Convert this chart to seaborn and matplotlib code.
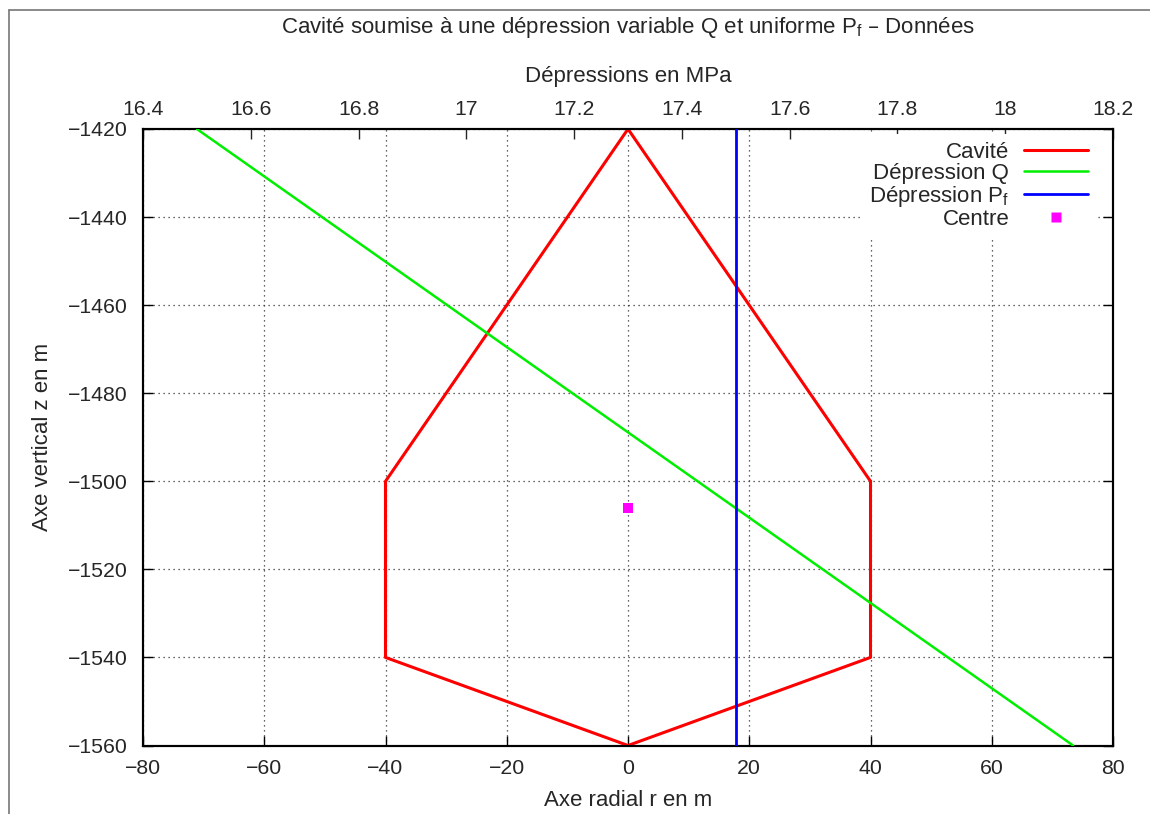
import matplotlib
matplotlib.use("Agg")
import matplotlib.pyplot as plt
from matplotlib.lines import Line2D
import seaborn as sns
import pandas as pd

# ---- data ----
cavity_r = [0, 40, 40, 0, -40, -40, 0]
cavity_z = [-1420, -1500, -1540, -1560, -1540, -1500, -1420]
q_pressure = [16.5, 18.126]
q_z = [-1420, -1560]
pf_pressure = [17.5, 17.5]
pf_z = [-1420, -1560]
centre_r = [0]
centre_z = [-1506]
x_ticks = [-80, -60, -40, -20, 0, 20, 40, 60, 80]
y_ticks = [-1560, -1540, -1520, -1500, -1480, -1460, -1440, -1420]
top_ticks = [16.4, 16.6, 16.8, 17.0, 17.2, 17.4, 17.6, 17.8, 18.0, 18.2]
top_labels = ["16.4", "16.6", "16.8", "17", "17.2", "17.4", "17.6", "17.8", "18", "18.2"]

sns.set_theme(style="ticks")
plt.rcParams['font.family'] = ['Liberation Sans', 'DejaVu Sans']
plt.rcParams['mathtext.default'] = 'regular'
plt.rcParams['axes.unicode_minus'] = True
FS = 16
TFS = 15.3

fig = plt.figure(figsize=(11.5, 8.14), dpi=100)
W, H = 1150, 814
left, right, top, bottom = 143, 1113, 129, 745.5
ax = fig.add_axes([left / W, 1 - bottom / H, (right - left) / W, (bottom - top) / H])

cav = pd.DataFrame({"r": cavity_r, "z": cavity_z})
sns.lineplot(data=cav, x="r", y="z", sort=False, estimator=None, ax=ax,
             color="#ff0000", lw=2.2, zorder=3)
cen = pd.DataFrame({"r": centre_r, "z": centre_z})
sns.scatterplot(data=cen, x="r", y="z", ax=ax, marker="s", color="#ff00ff",
                s=52, edgecolor="none", zorder=4)

ax.set_xlim(-80, 80)
ax.set_ylim(-1560, -1420)
ax.set_xticks(x_ticks)
ax.set_yticks(y_ticks)
ax.grid(True, linestyle=(0, (1, 3)), color="#333333", lw=0.9)
ax.tick_params(axis="both", direction="in", length=7.5, width=1, labelsize=TFS,
               color="black", top=False, right=True, labelright=False)
ax.tick_params(axis="x", pad=9.5)
ax.tick_params(axis="y", pad=11)
ax.set_xlabel("Axe radial r en m", fontsize=FS, labelpad=9)
ax.set_ylabel("Axe vertical z en m", fontsize=FS, labelpad=10.5)
for s in ax.spines.values():
    s.set_linewidth(1.5)
    s.set_color("black")

ax2 = ax.twiny()
qd = pd.DataFrame({"p": q_pressure, "z": q_z})
sns.lineplot(data=qd, x="p", y="z", sort=False, estimator=None, ax=ax2,
             color="#00ee00", lw=1.8, zorder=3)
pfd = pd.DataFrame({"p": pf_pressure, "z": pf_z})
sns.lineplot(data=pfd, x="p", y="z", sort=False, estimator=None, ax=ax2,
             color="#0000ff", lw=2.0, zorder=3)
ax2.set_xlim(16.4, 18.2)
ax2.set_ylim(-1560, -1420)
ax2.set_xticks(top_ticks)
ax2.set_xticklabels(top_labels)
ax2.tick_params(axis="x", direction="in", length=7.5, width=1, labelsize=TFS,
                top=True, bottom=False, pad=7.5)
ax2.set_xlabel("Dépressions en MPa", fontsize=FS, labelpad=13)
ax2.set_ylabel("")
for s in ax2.spines.values():
    s.set_linewidth(1.5)
    s.set_color("black")

handles = [
    Line2D([], [], color="#ff0000", lw=2.2),
    Line2D([], [], color="#00ee00", lw=1.8),
    Line2D([], [], color="#0000ff", lw=2.0),
    Line2D([], [], color="#ff00ff", marker="s", ls="none", markersize=6.8, markeredgecolor="none"),
]
labels = ["Cavité", "Dépression Q", "Dépression $P_f$", "Centre"]
leg = ax2.legend(handles, labels, loc="upper right",
                 bbox_to_anchor=((1096 - left) / (right - left), 0.992),
                 markerfirst=False, fontsize=FS, frameon=True, fancybox=False,
                 framealpha=1, facecolor="white", edgecolor="none",
                 handlelength=2.9, handletextpad=0.65, labelspacing=0.0,
                 borderpad=0.35, borderaxespad=0)
for t in leg.get_texts():
    t.set_ha("right")
leg._legend_box.align = "right"

fig.text((left + right) / 2 / W, 1 - 28 / H,
         "Cavité soumise à une dépression variable Q et uniforme $P_f$ – Données",
         ha="center", va="center", fontsize=FS)

# outer frame
fig.add_artist(Line2D([9 / W, 9 / W], [0, 1 - 10 / H], transform=fig.transFigure,
                      color="#777777", lw=1.2))
fig.add_artist(Line2D([9 / W, 1], [1 - 10 / H, 1 - 10 / H], transform=fig.transFigure,
                      color="#777777", lw=1.2))

fig.savefig("out.png", dpi=100)
